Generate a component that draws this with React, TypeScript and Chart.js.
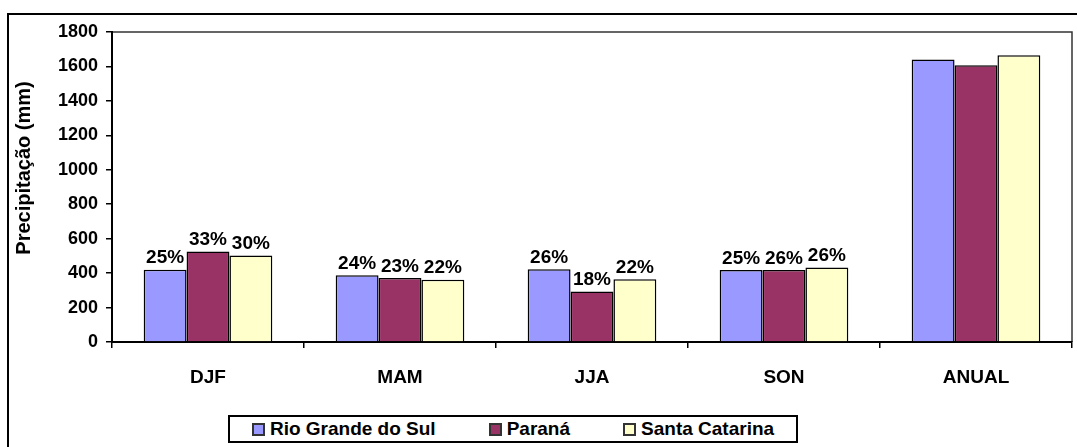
import React, { useEffect, useRef } from 'react';
import { Chart, registerables } from 'chart.js';

Chart.register(...registerables);

const categories = ['DJF', 'MAM', 'JJA', 'SON', 'ANUAL'];
const seriesNames = ['Rio Grande do Sul', 'Paraná', 'Santa Catarina'];
const seriesColors = ['#9999FF', '#993366', '#FFFFCC'];
const rioGrandeDoSul = [420, 388, 422, 418, 1641];
const parana = [525, 372, 293, 418, 1607];
const santaCatarina = [502, 362, 364, 432, 1665];
const rioGrandeDoSulPct = ['25%', '24%', '26%', '25%', ''];
const paranaPct = ['33%', '23%', '18%', '26%', ''];
const santaCatarinaPct = ['30%', '22%', '22%', '26%', ''];
const yMin = 0;
const yMax = 1800;
const yStep = 200;
const yTitle = 'Precipitação (mm)';

const FONT = 'Arial, "Liberation Sans", sans-serif';
const seriesValues = [rioGrandeDoSul, parana, santaCatarina];
const seriesPct = [rioGrandeDoSulPct, paranaPct, santaCatarinaPct];

const framePlugin = {
  id: 'frame',
  beforeDraw(chart: any) {
    const ctx = chart.ctx;
    ctx.save();
    ctx.fillStyle = '#fff';
    ctx.fillRect(0, 0, chart.width, chart.height);
    ctx.strokeStyle = '#000';
    ctx.lineWidth = 2;
    ctx.strokeRect(8, 14, chart.width + 40, chart.height + 40);
    const a = chart.chartArea;
    ctx.strokeStyle = '#333';
    ctx.lineWidth = 1.5;
    ctx.beginPath();
    ctx.moveTo(a.left, a.top);
    ctx.lineTo(a.right, a.top);
    ctx.lineTo(a.right, a.bottom);
    ctx.stroke();
    ctx.restore();
  },
  afterDraw(chart: any) {
    const ctx = chart.ctx;
    ctx.save();
    ctx.translate(30, 168);
    ctx.rotate(-Math.PI / 2);
    ctx.font = `bold 20px ${FONT}`;
    ctx.fillStyle = '#000';
    ctx.textAlign = 'center';
    ctx.textBaseline = 'alphabetic';
    ctx.fillText(yTitle, 0, 0);
    ctx.restore();
  },
  afterDatasetsDraw(chart: any) {
    const ctx = chart.ctx;
    ctx.save();
    ctx.font = `bold 19px ${FONT}`;
    ctx.fillStyle = '#000';
    ctx.textAlign = 'center';
    ctx.textBaseline = 'bottom';
    chart.data.datasets.forEach((ds: any, i: number) => {
      const meta = chart.getDatasetMeta(i);
      meta.data.forEach((el: any, j: number) => {
        const label = seriesPct[i][j];
        if (label) ctx.fillText(label, el.x, el.y - 2);
      });
    });
    ctx.restore();
  },
};

export default function App() {
  const ref = useRef<HTMLCanvasElement>(null);

  useEffect(() => {
    if (!ref.current) return;
    const chart = new Chart(ref.current, {
      type: 'bar',
      data: {
        labels: categories,
        datasets: seriesNames.map((name, i) => ({
          label: name,
          data: seriesValues[i],
          backgroundColor: seriesColors[i],
          borderColor: '#000',
          borderWidth: 1.5,
          categoryPercentage: 0.67,
          barPercentage: 1.0,
        })),
      },
      options: {
        responsive: false,
        animation: false,
        devicePixelRatio: 1,
        layout: { padding: { left: 0, top: 32, right: 5, bottom: 55 } },
        plugins: {
          legend: { display: false },
          tooltip: { enabled: false },
          title: { display: false },
        },
        scales: {
          x: {
            offset: true,
            grid: {
              display: true,
              drawOnChartArea: false,
              drawTicks: true,
              tickLength: 6,
              color: '#000',
              lineWidth: 1.5,
              offset: true,
            },
            border: { display: true, color: '#000', width: 2 },
            ticks: {
              color: '#000',
              font: { size: 19, weight: 'bold', family: FONT },
              padding: 18,
              maxRotation: 0,
              autoSkip: false,
            },
            afterFit: (s: any) => {
              s.height = 50;
            },
          },
          y: {
            min: yMin,
            max: yMax,
            ticks: {
              stepSize: yStep,
              color: '#000',
              font: { size: 18, weight: 'bold', family: FONT },
              padding: 8,
              callback: (v: any) => String(v),
            },
            grid: {
              drawOnChartArea: false,
              drawTicks: true,
              tickLength: 6,
              color: '#000',
              lineWidth: 1.5,
            },
            border: { display: true, color: '#000', width: 2 },
            afterFit: (s: any) => {
              s.width = 112;
            },
          },
        },
      } as any,
      plugins: [framePlugin],
    });
    return () => chart.destroy();
  }, []);

  return (
    <div style={{ position: 'fixed', left: 0, top: 0, width: 1077, height: 447, background: '#fff', overflow: 'hidden' }}>
      <canvas ref={ref} width={1077} height={447} style={{ display: 'block' }} />
      <div
        style={{
          position: 'absolute',
          left: 228,
          top: 415,
          width: 570,
          height: 28,
          boxSizing: 'border-box',
          border: '2px solid #000',
          background: '#fff',
          display: 'flex',
          alignItems: 'center',
          justifyContent: 'center',
          gap: 53,
          fontFamily: FONT,
          fontWeight: 'bold',
          fontSize: 19,
          color: '#000',
          whiteSpace: 'nowrap',
        }}
      >
        {seriesNames.map((name, i) => (
          <div key={name} style={{ display: 'flex', alignItems: 'center' }}>
            <span
              style={{
                display: 'inline-block',
                width: 13,
                height: 13,
                boxSizing: 'border-box',
                border: '2px solid #333',
                background: seriesColors[i],
                marginRight: 5,
              }}
            />
            <span style={{ lineHeight: '22px' }}>{name}</span>
          </div>
        ))}
      </div>
    </div>
  );
}
